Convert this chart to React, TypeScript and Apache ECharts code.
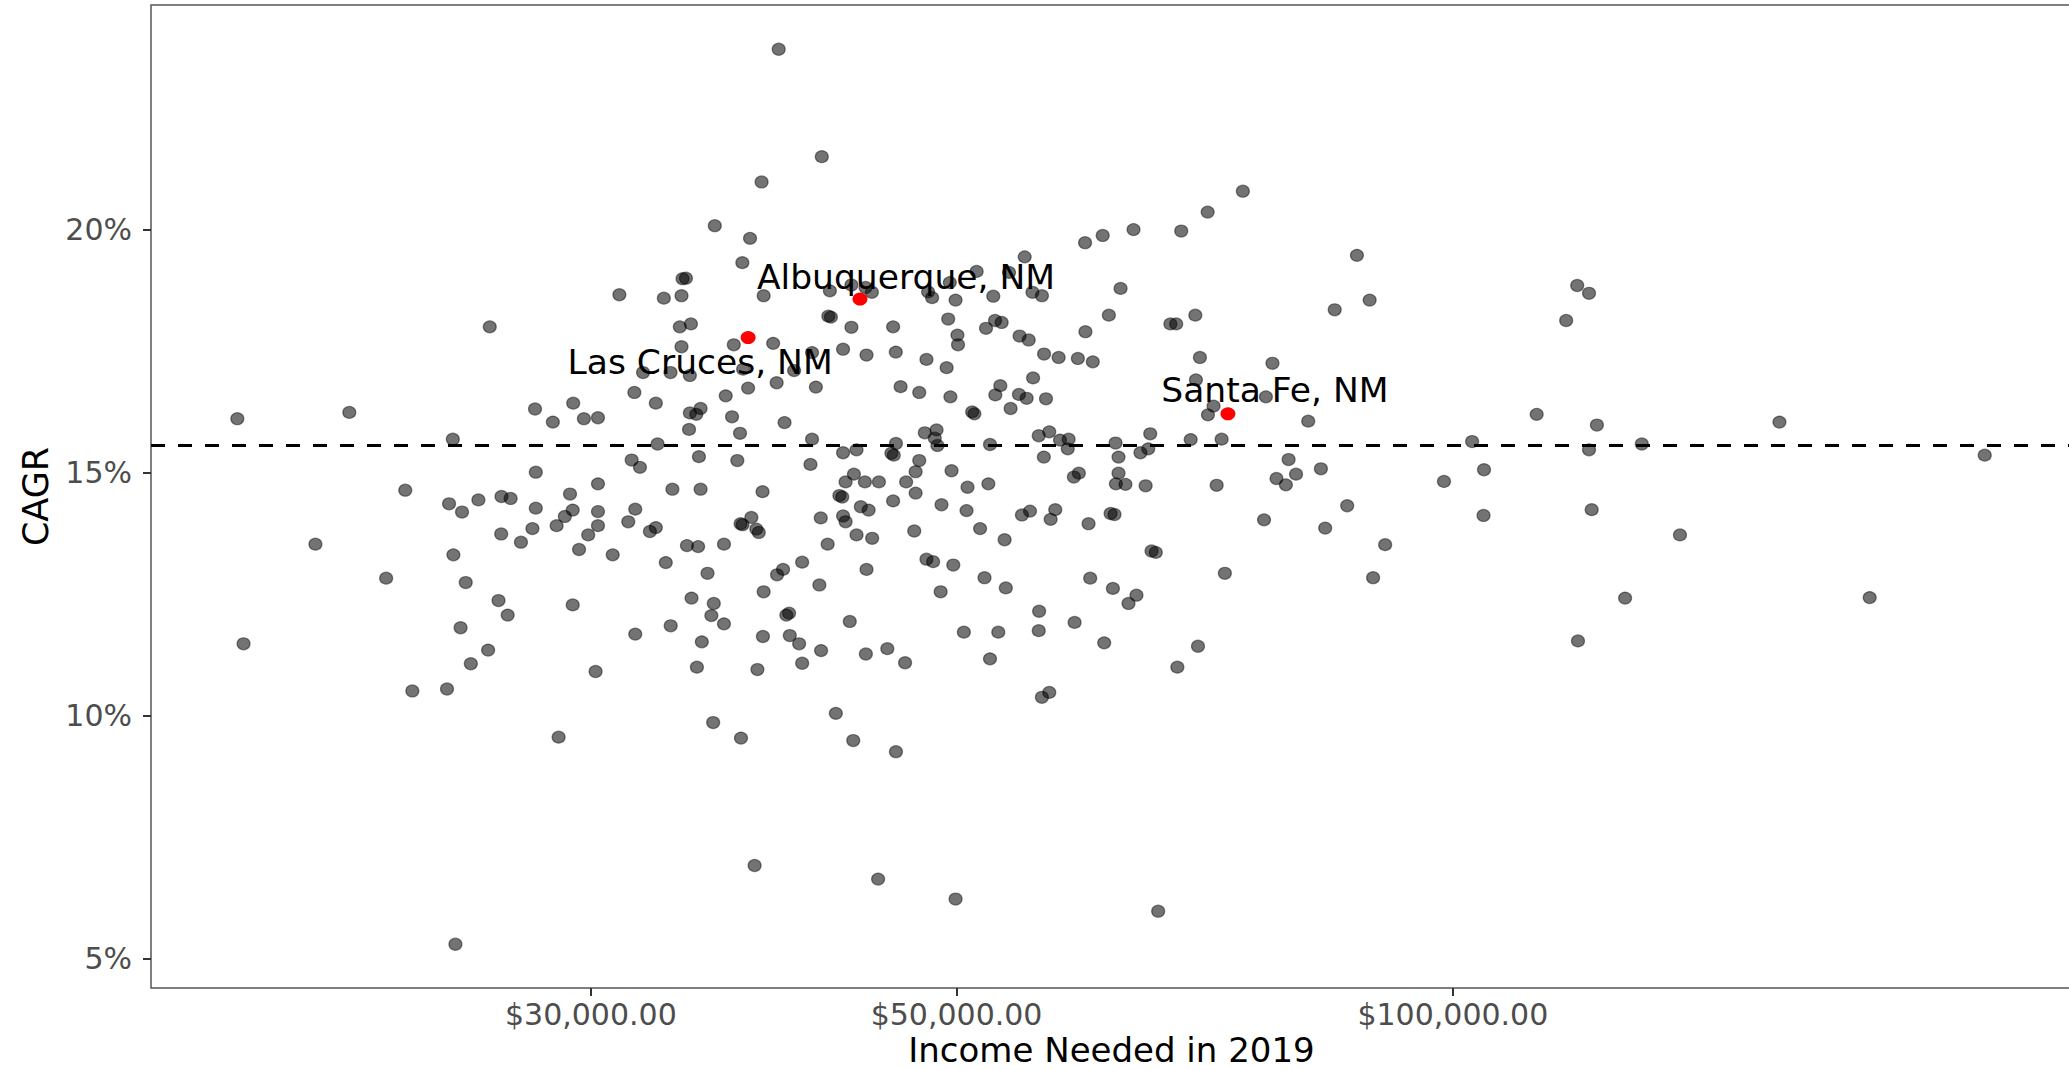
import React, { useEffect, useRef } from "react";
import * as echarts from "echarts";

// Income needed in 2019 (USD) for each metro area
const incomeNeeded: number[] = [
  18310, 21410, 24740, 27750, 28450, 29270, 29710, 30300, 27780, 23150,
  24610, 25060, 25640, 26480, 26820, 29140, 27780, 29250, 28930, 30300,
  30300, 28600, 27650, 26470, 27210, 29890, 29510, 30300, 20420, 24760,
  22540, 25190, 26370, 26710, 29250, 25010, 25990, 25370, 30200, 23380,
  24540, 18470, 28680, 24830, 35590, 37000, 42240, 43280, 45940, 37710,
  44810, 49930, 66260, 56330, 56910, 112420, 122290, 157800, 102730, 120950,
  130200, 210200, 104450, 98770, 104380, 121400, 137330, 90980, 127200, 179000,
  119100, 89460, 118970, 120950, 117150, 26050, 39000, 41420, 38080, 35670,
  37470, 37070, 34100, 34260, 31220, 33220, 34050, 38190, 41890, 43170,
  44030, 44420, 48050, 48320, 49530, 49930, 51420, 41800, 41950, 49420,
  43170, 45760, 50060, 50100, 33970, 34500, 36630, 38700, 34050, 42670,
  44090, 45930, 47940, 49310, 40860, 32270, 33530, 34450, 37110, 39850,
  31880, 36220, 37370, 38890, 41080, 46240, 47460, 49570, 32850, 34450,
  34970, 34760, 51100, 51260, 36540, 39320, 34410, 36950, 40860, 32930,
  45940, 47830, 48620, 48500, 48680, 34890, 36810, 31760, 32130, 40770,
  42670, 43480, 45650, 45800, 47460, 47220, 46600, 47220, 49650, 50770,
  33620, 34970, 38130, 43320, 42820, 43990, 44860, 42450, 42620, 43740,
  44220, 45760, 48960, 50700, 31920, 31610, 32580, 32850, 37540, 36980,
  37080, 37800, 37930, 41360, 42670, 42820, 43480, 44440, 47130, 41760,
  34310, 34850, 36130, 30930, 33310, 35310, 40300, 39240, 38910, 44090,
  47940, 48390, 49770, 41280, 38190, 48900, 34530, 35620, 35500, 36130,
  39570, 39420, 33540, 31920, 35030, 38150, 39610, 40130, 41380, 43070,
  44050, 45390, 46530, 40300, 50510, 52390, 34790, 37860, 74580, 71000,
  68430, 64020, 61320, 59830, 87460, 89030, 84790, 54990, 53800, 52630,
  55590, 56330, 62870, 61850, 59860, 67400, 67950, 69790, 52760, 53250,
  52100, 54600, 55300, 56500, 57660, 59230, 60480, 70240, 77730, 55640,
  53150, 52780, 54550, 55140, 56650, 69850, 77020, 53920, 71590, 71030,
  81710, 56080, 56910, 57770, 58470, 58400, 52390, 56480, 62430, 62690,
  65530, 65350, 64640, 69340, 72400, 79500, 80330, 78160, 79200, 83170,
  52270, 58900, 59310, 62690, 62460, 63300, 65110, 71900, 86280, 76820,
  83670, 54780, 55400, 57390, 57020, 60120, 62000, 62340, 51670, 53470,
  65650, 66040, 51990, 53560, 60260, 62200, 64280, 63570, 72730, 56110,
  58960, 56080, 53000, 61450, 70050, 68060,
];

// CAGR (%) for each metro area, same order as incomeNeeded
const cagrPct: number[] = [
  16.11, 16.24, 15.69, 16.31, 16.04, 16.43, 16.11, 16.13, 15.01, 14.64,
  14.36, 14.19, 14.44, 14.51, 14.47, 14.56, 14.27, 14.23, 14.10, 14.20,
  13.91, 13.91, 13.85, 13.74, 13.57, 13.72, 13.42, 14.77, 13.53, 13.31,
  12.83, 12.74, 12.37, 12.07, 12.28, 11.81, 11.35, 11.07, 10.91, 10.51,
  10.55, 11.48, 9.56, 5.30, 9.86, 9.54, 10.05, 9.49, 9.26, 6.92,
  6.64, 6.23, 5.98, 10.38, 10.48, 16.20, 15.98, 16.04, 15.64, 15.47,
  15.59, 15.36, 15.06, 14.82, 14.12, 14.24, 13.72, 13.52, 12.42, 12.43,
  11.54, 12.84, 18.85, 18.69, 18.13, 18.00, 23.71, 21.50, 20.98, 20.08,
  19.82, 19.32, 18.99, 19.00, 18.66, 18.59, 18.64, 18.64, 18.74, 18.86,
  18.81, 18.71, 18.72, 18.60, 18.91, 18.55, 19.14, 18.22, 18.20, 18.16,
  17.99, 18.00, 17.83, 17.63, 18.00, 18.06, 17.63, 17.66, 17.59, 17.54,
  17.42, 17.48, 17.33, 17.16, 17.47, 17.06, 17.06, 17.00, 17.13, 17.10,
  16.65, 16.58, 16.74, 16.85, 16.76, 16.77, 16.65, 16.56, 16.43, 16.23,
  16.32, 16.20, 16.25, 16.21, 16.15, 16.03, 15.89, 15.81, 15.69, 15.59,
  15.60, 15.82, 15.88, 15.71, 15.56, 15.33, 15.25, 15.26, 15.11, 15.17,
  15.41, 15.47, 15.40, 15.36, 15.25, 15.02, 14.81, 14.58, 15.04, 14.70,
  14.66, 14.66, 14.61, 14.97, 14.81, 14.81, 14.81, 14.53, 14.50, 14.30,
  14.23, 14.42, 14.34, 14.22, 14.25, 13.99, 13.79, 13.87, 14.08, 13.95,
  13.93, 13.84, 13.77, 14.07, 14.11, 13.99, 13.72, 13.65, 13.80, 13.53,
  13.50, 13.48, 13.53, 13.31, 13.15, 12.93, 13.16, 13.01, 12.90, 13.01,
  13.22, 13.17, 13.10, 12.69, 12.55, 12.55, 12.42, 12.31, 12.06, 11.89,
  12.11, 12.07, 11.85, 11.68, 11.52, 11.63, 11.65, 11.48, 11.34, 11.94,
  11.27, 11.38, 11.09, 11.08, 11.72, 11.17, 11.00, 10.95, 20.79, 20.36,
  19.97, 20.00, 19.88, 19.73, 19.47, 18.55, 18.35, 19.44, 19.12, 18.63,
  18.71, 18.64, 18.79, 18.24, 17.90, 18.06, 18.06, 18.24, 18.13, 18.09,
  17.97, 17.81, 17.73, 17.44, 17.37, 17.35, 17.28, 17.37, 17.25, 16.95,
  16.79, 16.60, 16.61, 16.53, 16.52, 16.91, 16.56, 16.32, 16.37, 16.19,
  16.06, 15.76, 15.84, 15.67, 15.69, 15.49, 15.58, 15.32, 15.61, 15.32,
  15.80, 15.49, 15.41, 15.68, 15.69, 15.27, 14.97, 14.88, 14.75, 15.08,
  14.77, 14.91, 14.99, 14.99, 14.77, 14.76, 14.73, 14.74, 14.32, 14.03,
  13.86, 14.13, 14.21, 14.24, 14.04, 13.95, 14.16, 14.14, 13.85, 13.62,
  13.39, 13.36, 12.84, 12.63, 12.83, 12.62, 12.48, 12.31, 12.93, 12.15,
  11.92, 11.75, 11.72, 11.50, 11.43, 11.00,
];

const highlightNames: string[] = ["Albuquerque, NM", "Las Cruces, NM", "Santa Fe, NM"];
const highlightIncome: number[] = [43690, 37370, 73040];
const highlightCagr: number[] = [18.57, 17.78, 16.21];

const xTickValues: number[] = [30000, 50000, 100000];
const yTickValues: number[] = [5, 10, 15, 20];
const meanCagr = 15.57;
const xRange: number[] = [16230, 237450];
const yRange: number[] = [4.4, 24.62];

const FONT = "DejaVu Sans";

export default function App() {
  const ref = useRef<HTMLDivElement>(null);

  useEffect(() => {
    if (!ref.current) return;
    const chart = echarts.init(ref.current, null, { renderer: "svg" });

    const grayData = incomeNeeded.map((v, i) => [v, cagrPct[i]]);
    const labelOffsets = [
      [46, -22],
      [-48, 24],
      [47, -24],
    ];
    const redData = highlightNames.map((name, i) => ({
      name,
      value: [highlightIncome[i], highlightCagr[i]],
      label: { offset: labelOffsets[i] },
    }));

    const option: any = {
      animation: false,
      backgroundColor: "#ffffff",
      grid: {
        left: 151,
        right: -3,
        top: 5,
        bottom: 82,
        show: true,
        borderColor: "#555555",
        borderWidth: 1.5,
        backgroundColor: "transparent",
        containLabel: false,
        outerBoundsMode: "none",
      },
      xAxis: {
        type: "log",
        logBase: 10,
        min: xRange[0],
        max: xRange[1],
        axisLine: { show: false },
        axisTick: {
          show: true,
          customValues: xTickValues,
          length: 8,
          lineStyle: { color: "#333333", width: 2 },
        },
        axisLabel: {
          customValues: xTickValues,
          formatter: (v: number) =>
            "$" +
            Math.round(v).toLocaleString("en-US", {
              minimumFractionDigits: 2,
              maximumFractionDigits: 2,
            }),
          color: "#4d4d4d",
          fontSize: 30,
          lineHeight: 30,
          fontFamily: FONT,
          margin: 11,
        },
        splitLine: { show: false },
        minorTick: { show: false },
        minorSplitLine: { show: false },
        name: "Income Needed in 2019",
        nameLocation: "middle",
        nameGap: 45,
        nameMoveOverlap: false,
        nameTextStyle: { fontSize: 34, lineHeight: 34, color: "#000000", fontFamily: FONT },
      },
      yAxis: {
        type: "value",
        min: yRange[0],
        max: yRange[1],
        axisLine: { show: false },
        axisTick: {
          show: true,
          customValues: yTickValues,
          length: 8,
          lineStyle: { color: "#333333", width: 2 },
        },
        axisLabel: {
          customValues: yTickValues,
          formatter: (v: number) => `${Math.round(v)}%`,
          color: "#4d4d4d",
          fontSize: 30,
          fontFamily: FONT,
          margin: 19,
        },
        splitLine: { show: false },
        name: "CAGR",
        nameLocation: "middle",
        nameGap: 98,
        nameMoveOverlap: false,
        nameRotate: 90,
        nameTextStyle: { fontSize: 35, color: "#000000", fontFamily: FONT },
      },
      series: [
        {
          type: "scatter",
          data: grayData,
          symbol: "circle",
          symbolSize: [13, 12],
          itemStyle: {
            color: "rgba(0,0,0,0.55)",
            borderColor: "rgba(0,0,0,0.45)",
            borderWidth: 1.2,
            opacity: 1,
          },
          emphasis: { disabled: true },
          silent: true,
          markLine: {
            silent: true,
            symbol: ["none", "none"],
            label: { show: false },
            lineStyle: { color: "#000000", type: [14, 13], width: 2.8, opacity: 1 },
            data: [{ yAxis: meanCagr }],
          },
          z: 2,
        },
        {
          type: "scatter",
          data: redData,
          symbol: "circle",
          symbolSize: [15, 13],
          itemStyle: { color: "#ff0000", opacity: 1 },
          emphasis: { disabled: true },
          silent: true,
          label: {
            show: true,
            position: "inside",
            formatter: "{b}",
            color: "#000000",
            fontSize: 34.5,
            fontFamily: FONT,
            align: "center",
            verticalAlign: "middle",
            opacity: 1,
          },
          z: 3,
        },
      ],
    };

    chart.setOption(option);
    return () => chart.dispose();
  }, []);

  return (
    <div
      ref={ref}
      style={{
        position: "fixed",
        left: 0,
        top: 0,
        width: 2069,
        height: 1070,
        background: "#ffffff",
      }}
    />
  );
}
